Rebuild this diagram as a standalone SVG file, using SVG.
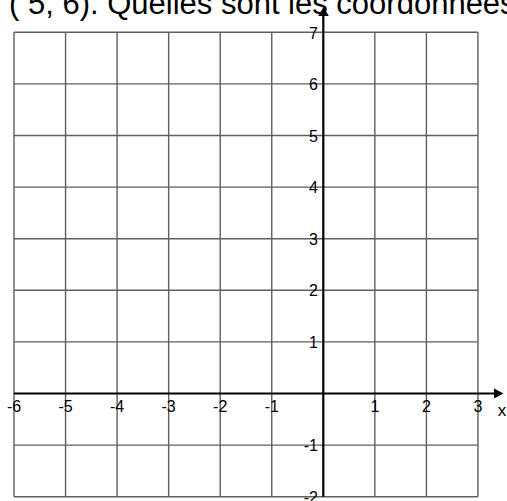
<svg xmlns="http://www.w3.org/2000/svg" width="507" height="501" viewBox="0 0 507 501">
<style>
.grid{stroke:#5f5f5f;stroke-width:1.4;fill:none}
.axis{stroke:#000;stroke-width:2.2;fill:none}
.head{fill:#000;stroke:none}
.t{font-family:"Liberation Sans",Arial,sans-serif;fill:#000}
.lx{font-size:16px;text-anchor:middle}
.ly{font-size:16px;text-anchor:end}
</style>
<rect width="507" height="501" fill="#fff"/>
<text id="title" class="t" x="9" y="13.5" font-size="31">( 5, 6). Quelles sont les coordonnées</text>
<g id="grid" class="grid">
<line x1="14" y1="32.3" x2="14" y2="496.7"/>
<line x1="65.55" y1="32.3" x2="65.55" y2="496.7"/>
<line x1="117.1" y1="32.3" x2="117.1" y2="496.7"/>
<line x1="168.65" y1="32.3" x2="168.65" y2="496.7"/>
<line x1="220.2" y1="32.3" x2="220.2" y2="496.7"/>
<line x1="271.75" y1="32.3" x2="271.75" y2="496.7"/>
<line x1="374.85" y1="32.3" x2="374.85" y2="496.7"/>
<line x1="426.4" y1="32.3" x2="426.4" y2="496.7"/>
<line x1="477.95" y1="32.3" x2="477.95" y2="496.7"/>
<line x1="14" y1="32.3" x2="477.95" y2="32.3"/>
<line x1="14" y1="83.9" x2="477.95" y2="83.9"/>
<line x1="14" y1="135.5" x2="477.95" y2="135.5"/>
<line x1="14" y1="187.1" x2="477.95" y2="187.1"/>
<line x1="14" y1="238.7" x2="477.95" y2="238.7"/>
<line x1="14" y1="290.3" x2="477.95" y2="290.3"/>
<line x1="14" y1="341.9" x2="477.95" y2="341.9"/>
<line x1="14" y1="445.1" x2="477.95" y2="445.1"/>
<line x1="14" y1="496.7" x2="477.95" y2="496.7"/>
</g>
<g id="axes">
<line class="axis" x1="14" y1="393.5" x2="495" y2="393.5"/>
<polygon class="head" points="503.5,393.5 494,388.5 494,398.5"/>
<line class="axis" x1="323.3" y1="496.7" x2="323.3" y2="15"/>
<polygon class="head" points="323.5,7 318.2,16 328.8,16"/>
</g>
<g id="x-labels" class="t lx">
<text x="14" y="412">-6</text>
<text x="65.55" y="412">-5</text>
<text x="117.1" y="412">-4</text>
<text x="168.65" y="412">-3</text>
<text x="220.2" y="412">-2</text>
<text x="271.75" y="412">-1</text>
<text x="374.85" y="412">1</text>
<text x="426.4" y="412">2</text>
<text x="477.95" y="412">3</text>
<text x="502" y="416" font-size="17">x</text>
</g>
<g id="y-labels" class="t ly">
<text x="318" y="38.5">7</text>
<text x="318" y="90">6</text>
<text x="318" y="141.6">5</text>
<text x="318" y="193.2">4</text>
<text x="318" y="244.8">3</text>
<text x="318" y="296.4">2</text>
<text x="318" y="348">1</text>
<text x="318" y="451.2">-1</text>
<text x="318" y="502.8">-2</text>
</g>
</svg>
